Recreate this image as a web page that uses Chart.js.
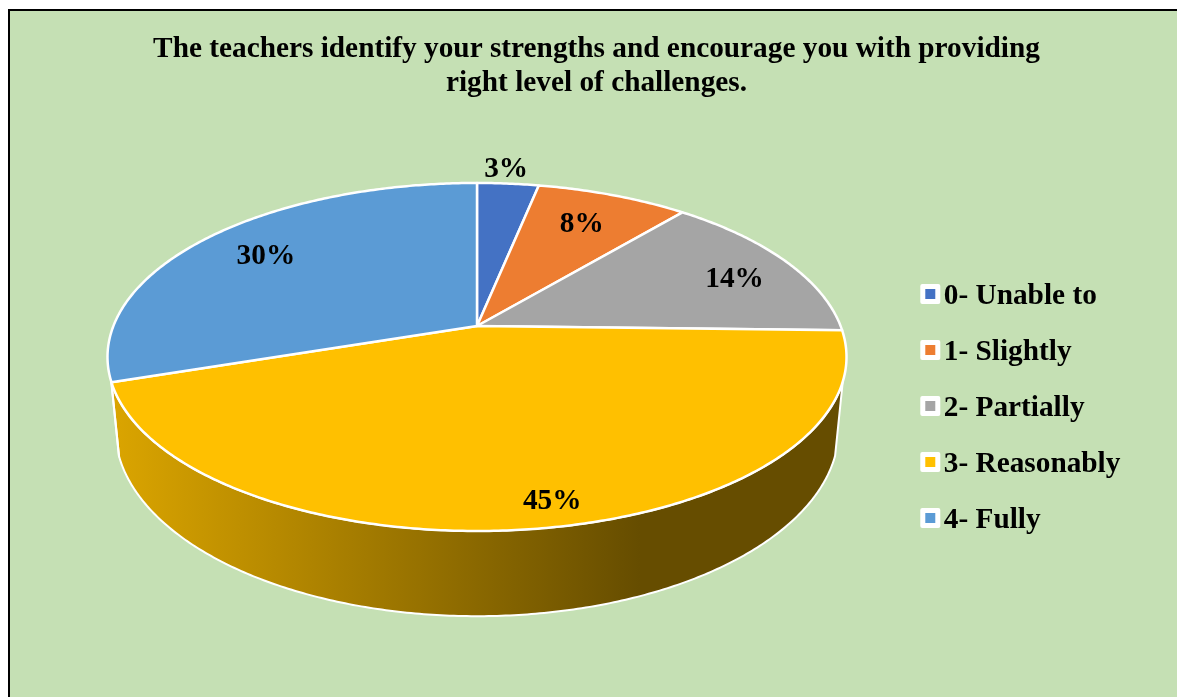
<!DOCTYPE html>
<html>
<head>
<meta charset="utf-8">
<title>Pie</title>
<script src="https://cdn.jsdelivr.net/npm/chart.js@4"></script>
<style>
    html, body { margin: 0; padding: 0; background: #fff; overflow: hidden; }
    #frame { position: absolute; left: 8px; top: 9px; right: 0; bottom: 0; background: #C5E0B4; border-left: 2px solid #000; border-top: 2px solid #000; }
    #myChart { position: absolute; left: 16px; top: 10px; }
</style>
</head>
<body>
<div id="frame"></div>
<canvas id="myChart" width="1161" height="687"></canvas>
<script>
const titleLines = ['The teachers identify your strengths and encourage you with providing', 'right level of challenges.'];
const categories = ['0- Unable to', '1- Slightly', '2- Partially', '3- Reasonably', '4- Fully'];
const shares = [3.2, 7.9, 14.3, 44.5, 30.1];
const sliceColors = ['#4472C4', '#ED7D31', '#A5A5A5', '#FFC000', '#5B9BD5'];

// Tilted pie: top face and bottom rim are perspective views of a circle
const FONT = "'Liberation Serif', serif";
const FONT_SIZE = 29.3;
const TILT = 0.178;
const TOP_FACE = { rx: 363.6, ry: 168.5, drop: 0 };
const BOTTOM_RIM = { rx: 356, ry: 181, drop: 70 };
const WALL_FROM = 108.2 * Math.PI / 180;
const WALL_TO = 251.8 * Math.PI / 180;
const PIE_X = 461;
const PIE_Y = 316;
const LEGEND_SHIFT_X = -46.6;
const LEGEND_SHIFT_Y = 54.5;
// label nudges from the slice middle, same order as the categories
const labelNudges = [[5, -46], [-1, 0], [22, 3], [29, 31], [-6, -1]];

function project(face, angle, r) {
    const x = r * Math.sin(angle);
    const y = -r * Math.cos(angle);
    const w = 1 - TILT * y;
    return { x: PIE_X + face.rx * x / w, y: PIE_Y + face.drop + face.ry * y / w };
}

function traceArc(ctx, face, from, to) {
    const steps = Math.max(2, Math.ceil(Math.abs(to - from) / 0.01));
    for (let i = 0; i <= steps; i++) {
        const p = project(face, from + (to - from) * i / steps, 1);
        ctx.lineTo(p.x, p.y);
    }
}

function shade(hex, f) {
    const n = parseInt(hex.slice(1), 16);
    return `rgb(${(n >> 16) * f}, ${((n >> 8) & 255) * f}, ${(n & 255) * f})`;
}

const tiltedPie = {
    id: 'tiltedPie',
    afterLayout(chart) {
        // the legend sits lower and closer to the pie than the layout puts it
        chart.legend.left += LEGEND_SHIFT_X;
        chart.legend.right += LEGEND_SHIFT_X;
        chart.legend.top += LEGEND_SHIFT_Y;
        chart.legend.bottom += LEGEND_SHIFT_Y;
    },
    beforeDatasetDraw(chart, args) {
        const ctx = chart.ctx;
        const arcs = args.meta.data;
        ctx.save();
        ctx.lineJoin = 'round';
        ctx.strokeStyle = '#fff';

        // side wall first
        arcs.forEach((arc, i) => {
            const a = Math.max(arc.startAngle + Math.PI / 2, WALL_FROM);
            const b = Math.min(arc.endAngle + Math.PI / 2, WALL_TO);
            if (a >= b) return;
            const g = ctx.createLinearGradient(PIE_X - 366, 0, PIE_X + 163, 0);
            g.addColorStop(0, shade(sliceColors[i], 0.86));
            g.addColorStop(1, shade(sliceColors[i], 0.4));
            ctx.beginPath();
            traceArc(ctx, TOP_FACE, a, b);
            traceArc(ctx, BOTTOM_RIM, b, a);
            ctx.closePath();
            ctx.fillStyle = g;
            ctx.fill();
            ctx.lineWidth = 2;
            ctx.stroke();
        });

        // top face
        arcs.forEach((arc, i) => {
            ctx.beginPath();
            ctx.moveTo(PIE_X, PIE_Y);
            traceArc(ctx, TOP_FACE, arc.startAngle + Math.PI / 2, arc.endAngle + Math.PI / 2);
            ctx.closePath();
            ctx.fillStyle = sliceColors[i];
            ctx.fill();
            ctx.lineWidth = 2.5;
            ctx.stroke();
        });

        // percentage labels
        ctx.fillStyle = '#000';
        ctx.font = `bold ${FONT_SIZE}px ${FONT}`;
        ctx.textAlign = 'center';
        ctx.textBaseline = 'middle';
        arcs.forEach((arc, i) => {
            const mid = (arc.startAngle + arc.endAngle) / 2 + Math.PI / 2;
            const p = project(TOP_FACE, mid, 0.75);
            ctx.fillText(Math.round(shares[i]) + '%', p.x + labelNudges[i][0], p.y + labelNudges[i][1]);
        });
        ctx.restore();
        return false;
    },
    afterDraw(chart) {
        // legend swatches: white tile with a small colour square, tight to the text
        const ctx = chart.ctx;
        ctx.save();
        chart.legend.legendHitBoxes.forEach((hit, i) => {
            const cx = hit.left + 1 + FONT_SIZE / 2 - 13.5;
            const cy = hit.top + FONT_SIZE / 2 - 2;
            ctx.beginPath();
            ctx.roundRect(cx - 10, cy - 10, 20, 20, 2);
            ctx.fillStyle = '#fff';
            ctx.fill();
            ctx.fillStyle = sliceColors[i];
            ctx.fillRect(cx - 5, cy - 5, 10, 10);
        });
        ctx.restore();
    }
};

new Chart(document.getElementById('myChart'), {
    type: 'pie',
    data: {
        labels: categories,
        datasets: [{ data: shares, backgroundColor: sliceColors, borderColor: '#fff' }]
    },
    options: {
        responsive: false,
        animation: false,
        plugins: {
            tooltip: { enabled: false },
            title: {
                display: true,
                text: titleLines,
                color: '#000',
                font: { family: FONT, size: FONT_SIZE, weight: 'bold', lineHeight: 1.16 },
                padding: { top: 22, bottom: 10 }
            },
            legend: {
                position: 'right',
                labels: {
                    color: '#000',
                    font: { family: FONT, size: FONT_SIZE, weight: 'bold' },
                    boxWidth: 1,
                    boxHeight: 1,
                    padding: 26.7,
                    generateLabels: chart => Chart.overrides.pie.plugins.legend.labels.generateLabels(chart)
                        .map(item => ({ ...item, fillStyle: 'transparent', strokeStyle: 'transparent', lineWidth: 0 }))
                }
            }
        }
    },
    plugins: [tiltedPie]
});
</script>
</body>
</html>
